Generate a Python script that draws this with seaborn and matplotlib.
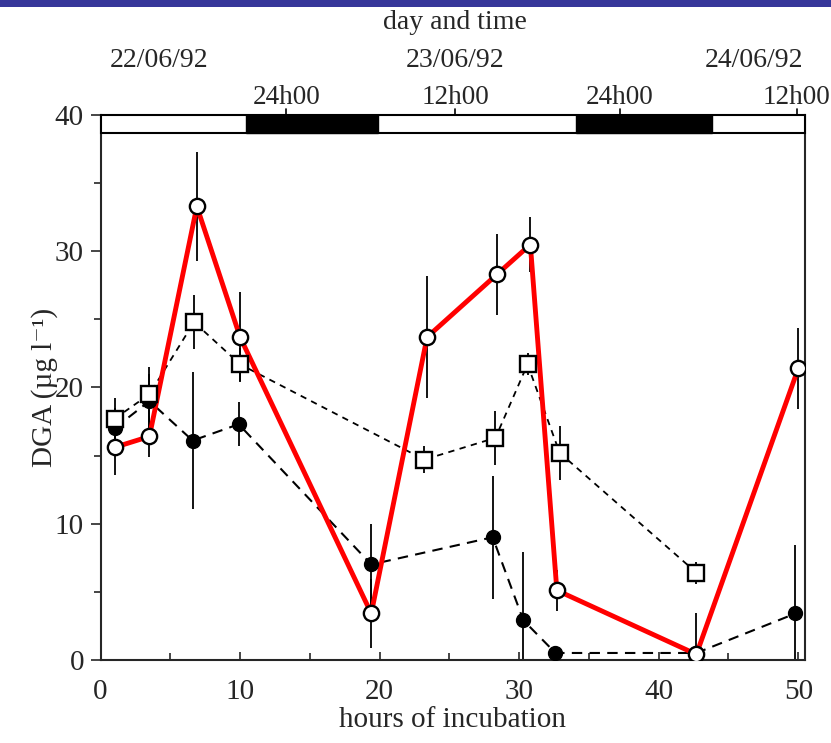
import matplotlib
matplotlib.use("Agg")
import matplotlib.pyplot as plt
from matplotlib.patches import Rectangle
import matplotlib.transforms as mtransforms
import seaborn as sns

sns.set_style("ticks")
plt.rcParams['font.family'] = ['Liberation Serif', 'DejaVu Serif']

# open circles (red line)
open_x = [1.0, 3.5, 6.9, 10.0, 19.4, 23.4, 28.4, 30.8, 32.7, 42.7, 50.0]
open_y = [15.6, 16.4, 33.3, 23.7, 3.4, 23.7, 28.3, 30.5, 5.1, 0.4, 21.4]
open_err = [2.0, 1.5, 4.0, 3.3, 2.5, 4.5, 3.0, 2.0, 1.5, 3.0, 3.0]

# open squares
sq_x = [1.0, 3.5, 6.7, 10.0, 23.2, 28.3, 30.6, 32.9, 42.7]
sq_y = [17.7, 19.5, 24.8, 21.7, 14.7, 16.3, 21.7, 15.2, 6.4]
sq_err = [1.5, 2.0, 2.0, 1.2, 1.0, 2.0, 0.8, 2.0, 0.8]

# filled circles
fc_x = [1.0, 3.5, 6.6, 9.9, 19.4, 28.1, 30.3, 32.6, 42.7, 49.8]
fc_y = [17.0, 19.0, 16.1, 17.3, 7.0, 9.0, 2.9, 0.5, 0.5, 3.4]
fc_err = [1.5, 2.0, 5.0, 1.6, 3.0, 4.5, 5.0, 0.5, 0.5, 5.0]

# light/dark bar on top (hours)
night_start = [10.4, 34.1]
night_end = [19.9, 43.8]
time_ticks = [13.3, 25.4, 37.2, 49.9]
time_labels = ['24h00', '12h00', '24h00', '12h00']
date_pos = [4.2, 25.4, 46.8]
date_labels = ['22/06/92', '23/06/92', '24/06/92']

fig = plt.figure(figsize=(8.31, 7.43), dpi=100)
ax = fig.add_axes([0.121, 0.112, 0.848, 0.733])

# lines
sns.lineplot(x=fc_x, y=fc_y, ax=ax, color='black', lw=1.5, sort=False,
             linestyle=(0, (5, 3.5)), zorder=2)
sns.lineplot(x=sq_x, y=sq_y, ax=ax, color='black', lw=1.3, sort=False,
             linestyle=(0, (3.5, 3)), zorder=2)
sns.lineplot(x=open_x, y=open_y, ax=ax, color='red', lw=3.5, sort=False,
             zorder=3)

# error bars
for xs, ys, es in [(fc_x, fc_y, fc_err), (sq_x, sq_y, sq_err), (open_x, open_y, open_err)]:
    ax.errorbar(xs, ys, yerr=es, fmt='none', ecolor='black', elinewidth=1.3,
                capsize=0, zorder=1.5)

# markers
ax.plot(fc_x, fc_y, 'o', ms=10, mfc='black', mec='black', zorder=4)
ax.plot(sq_x, sq_y, 's', ms=11, mfc='white', mec='black', mew=1.7, zorder=5)
ax.plot(open_x, open_y, 'o', ms=11, mfc='white', mec='black', mew=1.7, zorder=6)

ax.set_xlim(0, 50.5)
ax.set_ylim(0, 40)
ax.set_xticks([0, 10, 20, 30, 40, 50])
ax.set_xticks(range(0, 51, 5), minor=True)
ax.set_yticks([0, 10, 20, 30, 40])
ax.set_yticks(range(0, 41, 5), minor=True)
ax.tick_params(axis='x', direction='in', length=6, width=1.2, labelsize=21, pad=14)
ax.tick_params(axis='x', which='minor', direction='in', length=5, width=1.2)
ax.tick_params(axis='y', direction='out', length=7, width=1.2, labelsize=21, pad=5)
ax.tick_params(axis='y', which='minor', direction='out', length=5, width=1.2)
for s in ax.spines.values():
    s.set_linewidth(1.5)
ax.spines['top'].set_visible(False)

ax.set_xlabel('hours of incubation', fontsize=21, labelpad=1)
ax.set_ylabel('DGA (µg l⁻¹)', fontsize=21, labelpad=-2)

# day/night bar
bar_lo, bar_hi = 38.7, 40
ax.add_patch(Rectangle((0, bar_lo), 50.5, bar_hi - bar_lo, facecolor='white',
                       edgecolor='black', lw=1.5, zorder=7, clip_on=False))
for a, b in zip(night_start, night_end):
    ax.add_patch(Rectangle((a, bar_lo), b - a, bar_hi - bar_lo, facecolor='black',
                           edgecolor='black', lw=1.0, zorder=8, clip_on=False))

trans = mtransforms.blended_transform_factory(ax.transData, ax.transAxes)
for t, lab in zip(time_ticks, time_labels):
    ax.plot([t, t], [1.0, 1.012], transform=trans, color='black', lw=1.2,
            clip_on=False, zorder=9)
    ax.text(t, 1.033, lab, transform=trans, ha='center', va='center', fontsize=19.5)
for d, lab in zip(date_pos, date_labels):
    ax.text(d, 1.10, lab, transform=trans, ha='center', va='center', fontsize=20)
ax.text(25.4, 1.17, 'day and time', transform=trans, ha='center', va='center',
        fontsize=20)

# blue banner at the top of the slide
fig.patches.append(Rectangle((0, 0.99), 1, 0.01, transform=fig.transFigure,
                             facecolor='#37379a', edgecolor='none'))

fig.savefig('out.png', dpi=100)
